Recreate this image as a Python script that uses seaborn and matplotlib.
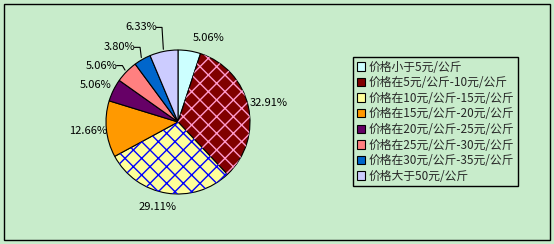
import numpy as np
import seaborn as sns
import matplotlib.pyplot as plt
from matplotlib.patches import Wedge, Rectangle

categories = ['价格小于5元/公斤', '价格在5元/公斤-10元/公斤', '价格在10元/公斤-15元/公斤',
              '价格在15元/公斤-20元/公斤', '价格在20元/公斤-25元/公斤', '价格在25元/公斤-30元/公斤',
              '价格在30元/公斤-35元/公斤', '价格大于50元/公斤']
shares = [5.06, 32.91, 29.11, 12.66, 5.06, 5.06, 3.80, 6.33]
pct_labels = ['5.06%', '32.91%', '29.11%', '12.66%', '5.06%', '5.06%', '3.80%', '6.33%']

colors = ['#CCFFFF', '#800000', '#FFFF99', '#FF9900', '#660066', '#FF8080', '#0066CC', '#CCCCFF']
hatches = [None, 'xx', 'xx', None, None, None, None, None]
hatch_colors = [None, '#FF99CC', '#0000FF', None, None, None, None, None]
# label placement: angle shift (deg, clockwise) and radius
label_shift = [10.6, 0.7, 4.6, 0.0, -2.1, -8.0, -8.6, -9.9]
label_r = [1.24, 1.28, 1.22, 1.26, 1.25, 1.32, 1.32, 1.41]
leader = [False, False, False, False, False, True, True, True]

bg = '#C8ECCB'
sns.set_theme(style='white')
plt.rcParams['font.family'] = ['Noto Sans CJK SC', 'DejaVu Sans']

fig = plt.figure(figsize=(5.54, 2.44), dpi=100)
fig.patch.set_facecolor(bg)
ax = fig.add_axes([70 / 554, 14 / 244, 216 / 554, 216 / 244])
ax.set_facecolor(bg)

wedges, _ = ax.pie(shares, colors=colors, startangle=90, counterclock=False, radius=1,
                   wedgeprops=dict(edgecolor='black', linewidth=0.8))

for w, h, hc in zip(wedges, hatches, hatch_colors):
    if h:
        w.set_hatch(h)
        over = Wedge(w.center, w.r, w.theta1, w.theta2, facecolor='none',
                     edgecolor=hc, hatch=h, linewidth=0)
        ax.add_patch(over)
        w.set_hatch(None)

total = sum(shares)
cum = np.cumsum([0] + shares)
for i, lab in enumerate(pct_labels):
    mid = (cum[i] + cum[i + 1]) / 2 / total * 360
    a = np.deg2rad(mid + label_shift[i])
    x, y = label_r[i] * np.sin(a), label_r[i] * np.cos(a)
    ax.text(x, y, lab, ha='center', va='center', fontsize=8, color='black')
    if leader[i]:
        xr = x + 0.21
        am = np.deg2rad(mid)
        ex, ey = 1.03 * np.sin(am), 1.03 * np.cos(am)
        ax.plot([xr, xr + 0.08, ex], [y, y, ey], color='black', lw=0.8)

ax.set_xlim(-1.5, 1.5)
ax.set_ylim(-1.5, 1.5)
ax.set_aspect('equal')
ax.axis('off')

# legend proxies with hatch colours
from matplotlib.patches import Patch
handles = []
for c, h, hc in zip(colors, hatches, hatch_colors):
    handles.append(Patch(facecolor=c, edgecolor='black', linewidth=0.8))
leg = fig.legend(handles, categories, loc='upper left',
                 bbox_to_anchor=(353 / 554, 1 - 57 / 244), bbox_transform=fig.transFigure,
                 fontsize=8.5, frameon=True, fancybox=False, edgecolor='black',
                 facecolor=bg, framealpha=1, handlelength=0.7, handleheight=0.7,
                 handletextpad=0.3, labelspacing=0.22, borderpad=0.3, borderaxespad=0)
leg.get_frame().set_linewidth(1)

fig.patches.append(Rectangle((4 / 554, 4 / 244), 546 / 554, 236 / 244, transform=fig.transFigure,
                             fill=False, edgecolor='black', linewidth=1))

fig.savefig('out.png', dpi=100, facecolor=bg)
